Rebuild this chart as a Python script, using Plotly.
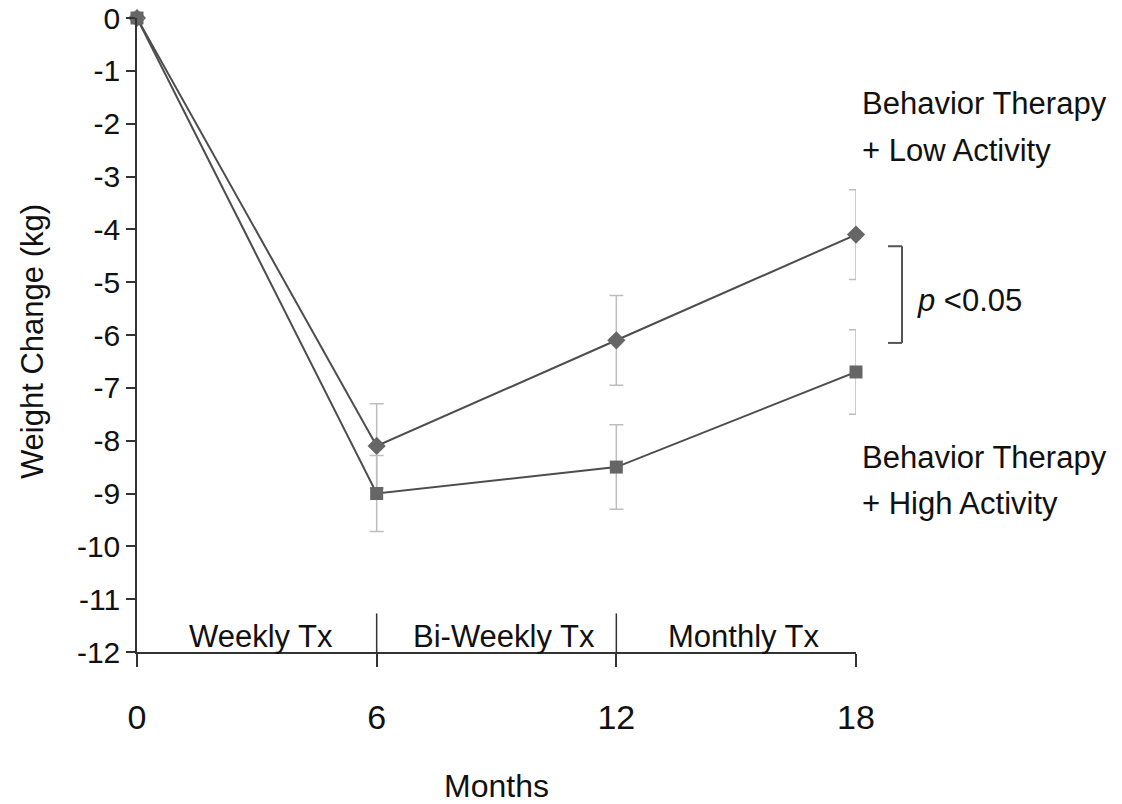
import plotly.graph_objects as go

# Study timeline (months) and mean weight change (kg) with error bars
months = [0, 6, 12, 18]
low_activity = [0, -8.1, -6.1, -4.1]
low_activity_err = [0, 0.8, 0.85, 0.85]
high_activity = [0, -9.0, -8.5, -6.7]
high_activity_err = [0, 0.72, 0.8, 0.8]

y_ticks = list(range(0, -13, -1))

# Treatment phase labels and their centers along the month axis
phase_labels = ["Weekly Tx", "Bi-Weekly Tx", "Monthly Tx"]
phase_centers = [3.1, 9.2, 15.2]
phase_bounds = [6, 12]

FONT = "Liberation Sans, Arial, sans-serif"
LINE = "#4d4d4d"
MARK = "#666666"
ERR = "#bdbdbd"
TEXT = "#111111"

fig = go.Figure()

fig.add_trace(go.Scatter(
    x=months, y=low_activity, mode="lines+markers",
    line=dict(color=LINE, width=2),
    marker=dict(symbol="diamond", size=14, color=MARK),
    error_y=dict(type="data", array=low_activity_err, color=ERR, thickness=1.5, width=7),
    cliponaxis=False, showlegend=False,
))
fig.add_trace(go.Scatter(
    x=months, y=high_activity, mode="lines+markers",
    line=dict(color=LINE, width=2),
    marker=dict(symbol="square", size=13, color=MARK),
    error_y=dict(type="data", array=high_activity_err, color=ERR, thickness=1.5, width=7),
    cliponaxis=False, showlegend=False,
))

shapes = []
# phase dividers rising from the month axis
for b in phase_bounds:
    shapes.append(dict(type="line", xref="x", yref="y", x0=b, x1=b, y0=-12, y1=-11.27,
                       line=dict(color="#333333", width=1.5)))

# significance bracket between the 18-month points
bx0, bx1 = 1.0445, 1.064
by0, by1 = -4.32, -6.15
shapes += [
    dict(type="line", xref="paper", yref="y", x0=bx0, x1=bx1, y0=by0, y1=by0, line=dict(color="#555555", width=2)),
    dict(type="line", xref="paper", yref="y", x0=bx1, x1=bx1, y0=by0, y1=by1, line=dict(color="#555555", width=2)),
    dict(type="line", xref="paper", yref="y", x0=bx0, x1=bx1, y0=by1, y1=by1, line=dict(color="#555555", width=2)),
]

annotations = []
for lab, cx in zip(phase_labels, phase_centers):
    annotations.append(dict(x=cx, y=-11.7, xref="x", yref="y", text=lab, showarrow=False,
                            font=dict(family=FONT, size=31, color=TEXT)))

side_text = [
    ("Behavior Therapy", -1.61),
    ("+ Low Activity", -2.5),
    ("Behavior Therapy", -8.31),
    ("+ High Activity", -9.18),
]
for txt, yy in side_text:
    annotations.append(dict(x=1.0056, y=yy, xref="paper", yref="y", text=txt, showarrow=False,
                            xanchor="left", yanchor="middle",
                            font=dict(family=FONT, size=31, color=TEXT)))

annotations.append(dict(x=1.082, y=-5.34, xref="paper", yref="y", text="<i>p</i> &lt;0.05",
                        showarrow=False, xanchor="left", yanchor="middle",
                        font=dict(family=FONT, size=31, color=TEXT)))

# axis titles
annotations.append(dict(x=0.5, y=-0.212, xref="paper", yref="paper", text="Months",
                        showarrow=False, xanchor="center", yanchor="middle",
                        font=dict(family=FONT, size=32, color=TEXT)))
annotations.append(dict(x=-0.145, y=0.49, xref="paper", yref="paper", text="Weight Change (kg)",
                        showarrow=False, textangle=-90, xanchor="center", yanchor="middle",
                        font=dict(family=FONT, size=31, color=TEXT)))

fig.update_layout(
    width=1122, height=804,
    margin=dict(l=137, r=266, t=18, b=152, autoexpand=False),
    paper_bgcolor="white", plot_bgcolor="white",
    shapes=shapes, annotations=annotations,
    font=dict(family=FONT, color=TEXT),
    xaxis=dict(
        range=[0, 18], tickvals=months, ticktext=[str(m) for m in months],
        showgrid=False, zeroline=False, showline=True, linecolor="#333333", linewidth=1.5,
        ticks="outside", ticklen=13, tickcolor="#333333", tickwidth=1.5,
        tickfont=dict(family=FONT, size=34), ticklabelstandoff=21, automargin=False,
    ),
    yaxis=dict(
        range=[-12, 0], tickvals=y_ticks, ticktext=[str(v) for v in y_ticks],
        showgrid=False, zeroline=False, showline=True, linecolor="#333333", linewidth=1.5,
        ticks="outside", ticklen=9, tickcolor="#333333", tickwidth=1.5,
        tickfont=dict(family=FONT, size=30), automargin=False,
    ),
)

fig.write_html("out.html")
